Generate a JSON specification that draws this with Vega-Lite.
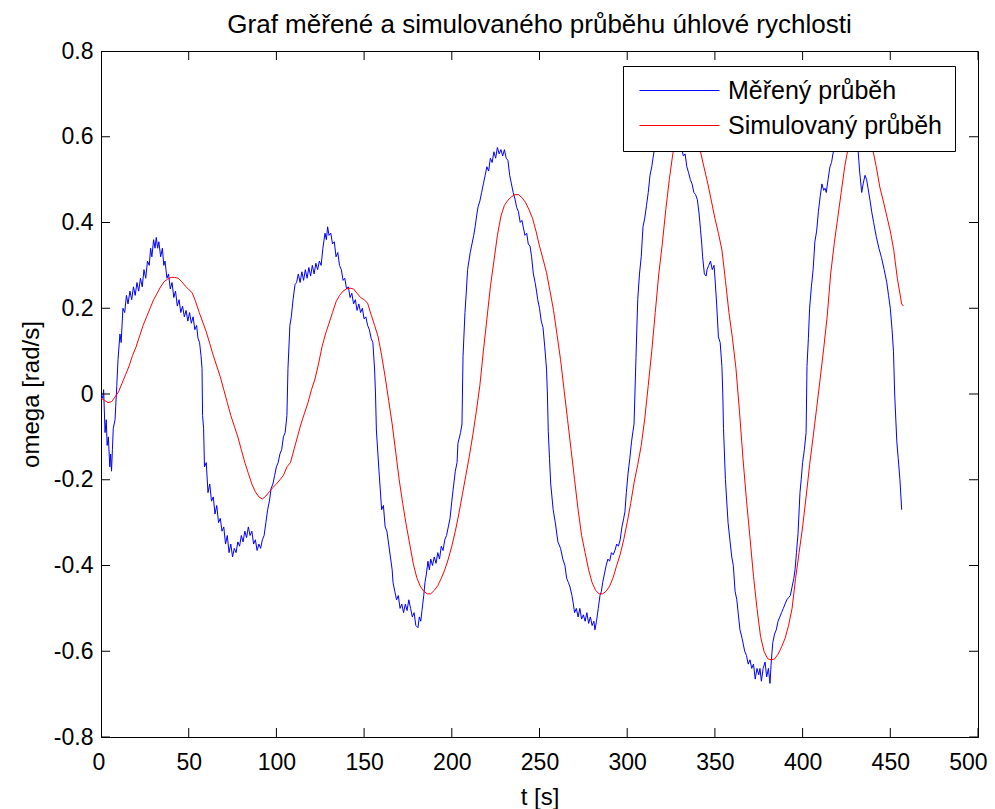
{
  "$schema": "https://vega.github.io/schema/vega-lite/v6.json",
  "width": 877,
  "height": 686,
  "autosize": {"type": "none"},
  "padding": {"left": 101, "top": 51, "right": 17, "bottom": 72},
  "background": "white",
  "config": {
    "font": "Liberation Sans",
    "view": {"stroke": "black", "strokeWidth": 1},
    "axis": {
      "grid": false,
      "domainColor": "black",
      "labelColor": "black",
      "titleColor": "black",
      "labelFont": "Liberation Sans",
      "titleFont": "Liberation Sans",
      "labelFontSize": 23,
      "titleFontSize": 24,
      "titleFontWeight": "normal",
      "labelOverlap": false,
      "labelBound": false
    }
  },
  "title": {
    "text": "Graf měřené a simulovaného průběhu úhlové rychlosti",
    "font": "Liberation Sans",
    "fontSize": 26,
    "fontWeight": "normal",
    "color": "black",
    "anchor": "middle",
    "offset": 2
  },
  "datasets": {
    "xticks": [
      {"t":0,"w":-0.8},{"t":50,"w":-0.8},{"t":100,"w":-0.8},{"t":150,"w":-0.8},{"t":200,"w":-0.8},{"t":250,"w":-0.8},{"t":300,"w":-0.8},{"t":350,"w":-0.8},{"t":400,"w":-0.8},{"t":450,"w":-0.8},{"t":500,"w":-0.8},
      {"t":0,"w":0.8},{"t":50,"w":0.8},{"t":100,"w":0.8},{"t":150,"w":0.8},{"t":200,"w":0.8},{"t":250,"w":0.8},{"t":300,"w":0.8},{"t":350,"w":0.8},{"t":400,"w":0.8},{"t":450,"w":0.8},{"t":500,"w":0.8}
    ],
    "yticks": [
      {"t":0,"w":-0.8},{"t":0,"w":-0.6},{"t":0,"w":-0.4},{"t":0,"w":-0.2},{"t":0,"w":0},{"t":0,"w":0.2},{"t":0,"w":0.4},{"t":0,"w":0.6},{"t":0,"w":0.8},
      {"t":500,"w":-0.8},{"t":500,"w":-0.6},{"t":500,"w":-0.4},{"t":500,"w":-0.2},{"t":500,"w":0},{"t":500,"w":0.2},{"t":500,"w":0.4},{"t":500,"w":0.6},{"t":500,"w":0.8}
    ],
    "measured": [
      {"t":0,"w":0.0},{"t":1,"w":-0.01},{"t":1.5,"w":0.01},{"t":2.3,"w":-0.09},{"t":3,"w":-0.06},{"t":3.5,"w":-0.12},{"t":4.2,"w":-0.1},{"t":5,"w":-0.17},{"t":5.5,"w":-0.14},{"t":6,"w":-0.18},{"t":6.5,"w":-0.13},{"t":7,"w":-0.08},{"t":8,"w":-0.06},{"t":9,"w":0.02},{"t":9.7,"w":0.08},{"t":10.8,"w":0.14},{"t":11.5,"w":0.12},{"t":12.5,"w":0.2},{"t":13.5,"w":0.19},{"t":14.5,"w":0.23},{"t":15.4,"w":0.21},{"t":16.5,"w":0.24},{"t":17.5,"w":0.22},{"t":18.5,"w":0.25},{"t":19.5,"w":0.23},{"t":20.5,"w":0.26},{"t":21.5,"w":0.24},{"t":22.5,"w":0.27},{"t":23.5,"w":0.25},{"t":24.5,"w":0.29},{"t":25.5,"w":0.27},{"t":26.5,"w":0.31},{"t":27.5,"w":0.3},{"t":28.3,"w":0.34},{"t":29,"w":0.32},{"t":30,"w":0.36},{"t":30.8,"w":0.34},{"t":31.5,"w":0.365},{"t":32.3,"w":0.34},{"t":33,"w":0.355},{"t":34,"w":0.32},{"t":35,"w":0.34},{"t":35.8,"w":0.3},{"t":36.5,"w":0.31},{"t":37.6,"w":0.27},{"t":38.5,"w":0.28},{"t":39.5,"w":0.245},{"t":40.5,"w":0.26},{"t":41.5,"w":0.225},{"t":42.5,"w":0.24},{"t":43.5,"w":0.205},{"t":44.5,"w":0.22},{"t":45.5,"w":0.19},{"t":46.5,"w":0.205},{"t":47.5,"w":0.18},{"t":48.5,"w":0.195},{"t":49.5,"w":0.17},{"t":50.5,"w":0.19},{"t":51.5,"w":0.165},{"t":52.5,"w":0.18},{"t":53.5,"w":0.15},{"t":54.5,"w":0.16},{"t":55.3,"w":0.13},{"t":56.2,"w":0.12},{"t":57,"w":0.09},{"t":57.6,"w":0.06},{"t":57.9,"w":-0.05},{"t":58.5,"w":-0.08},{"t":59,"w":-0.17},{"t":60,"w":-0.16},{"t":61,"w":-0.23},{"t":62,"w":-0.21},{"t":63,"w":-0.25},{"t":64,"w":-0.24},{"t":65,"w":-0.28},{"t":66,"w":-0.26},{"t":67,"w":-0.3},{"t":68,"w":-0.29},{"t":69,"w":-0.32},{"t":70,"w":-0.31},{"t":71,"w":-0.35},{"t":72,"w":-0.33},{"t":73,"w":-0.37},{"t":74,"w":-0.35},{"t":75,"w":-0.38},{"t":76,"w":-0.36},{"t":77,"w":-0.37},{"t":78,"w":-0.345},{"t":79,"w":-0.355},{"t":80,"w":-0.33},{"t":81,"w":-0.345},{"t":82,"w":-0.32},{"t":83,"w":-0.335},{"t":84,"w":-0.31},{"t":85,"w":-0.33},{"t":86,"w":-0.32},{"t":87,"w":-0.35},{"t":88,"w":-0.34},{"t":89,"w":-0.365},{"t":90,"w":-0.35},{"t":91,"w":-0.36},{"t":92,"w":-0.34},{"t":93,"w":-0.33},{"t":94,"w":-0.3},{"t":95,"w":-0.27},{"t":96,"w":-0.25},{"t":97,"w":-0.22},{"t":98,"w":-0.21},{"t":99,"w":-0.19},{"t":100,"w":-0.17},{"t":101,"w":-0.16},{"t":102,"w":-0.14},{"t":103,"w":-0.13},{"t":104,"w":-0.1},{"t":105,"w":-0.09},{"t":106,"w":-0.05},{"t":106.6,"w":0.06},{"t":107.7,"w":0.16},{"t":108.5,"w":0.18},{"t":109.5,"w":0.22},{"t":110.6,"w":0.255},{"t":111.5,"w":0.26},{"t":112.5,"w":0.28},{"t":113.5,"w":0.26},{"t":114.5,"w":0.285},{"t":115.5,"w":0.265},{"t":116.5,"w":0.29},{"t":117.5,"w":0.27},{"t":118.5,"w":0.295},{"t":119.5,"w":0.275},{"t":120.5,"w":0.3},{"t":121.5,"w":0.28},{"t":122.5,"w":0.305},{"t":123.5,"w":0.29},{"t":124.5,"w":0.31},{"t":125.5,"w":0.3},{"t":126.5,"w":0.34},{"t":127.7,"w":0.375},{"t":128.5,"w":0.36},{"t":129.2,"w":0.39},{"t":130,"w":0.37},{"t":131,"w":0.375},{"t":132,"w":0.35},{"t":133,"w":0.355},{"t":134,"w":0.32},{"t":135,"w":0.33},{"t":136,"w":0.3},{"t":137,"w":0.29},{"t":138,"w":0.265},{"t":139,"w":0.27},{"t":140,"w":0.245},{"t":141,"w":0.25},{"t":142,"w":0.225},{"t":143,"w":0.235},{"t":144,"w":0.21},{"t":145,"w":0.22},{"t":146,"w":0.195},{"t":147,"w":0.21},{"t":148,"w":0.19},{"t":149,"w":0.2},{"t":150,"w":0.175},{"t":151,"w":0.18},{"t":152,"w":0.16},{"t":153,"w":0.15},{"t":154,"w":0.13},{"t":155,"w":0.12},{"t":156,"w":0.056},{"t":156.5,"w":0.0},{"t":157,"w":-0.084},{"t":158.5,"w":-0.18},{"t":160,"w":-0.27},{"t":161,"w":-0.26},{"t":162,"w":-0.31},{"t":163,"w":-0.32},{"t":164,"w":-0.35},{"t":165,"w":-0.38},{"t":166,"w":-0.41},{"t":166.5,"w":-0.44},{"t":167.5,"w":-0.46},{"t":168.5,"w":-0.48},{"t":169.5,"w":-0.47},{"t":170.5,"w":-0.5},{"t":171.5,"w":-0.49},{"t":172.5,"w":-0.51},{"t":173.5,"w":-0.49},{"t":174.5,"w":-0.505},{"t":175.5,"w":-0.48},{"t":176.5,"w":-0.5},{"t":177.5,"w":-0.52},{"t":178.5,"w":-0.51},{"t":179.5,"w":-0.54},{"t":180.7,"w":-0.545},{"t":181.5,"w":-0.52},{"t":182.3,"w":-0.53},{"t":183,"w":-0.505},{"t":184,"w":-0.47},{"t":184.7,"w":-0.44},{"t":185.5,"w":-0.42},{"t":186.4,"w":-0.39},{"t":187.2,"w":-0.41},{"t":188,"w":-0.385},{"t":189,"w":-0.4},{"t":190,"w":-0.38},{"t":191,"w":-0.395},{"t":192,"w":-0.37},{"t":193,"w":-0.385},{"t":194,"w":-0.355},{"t":195,"w":-0.365},{"t":196,"w":-0.34},{"t":197,"w":-0.33},{"t":198,"w":-0.31},{"t":199,"w":-0.29},{"t":200,"w":-0.25},{"t":200.7,"w":-0.225},{"t":202,"w":-0.18},{"t":203,"w":-0.16},{"t":203.5,"w":-0.115},{"t":205,"w":-0.09},{"t":205.8,"w":-0.07},{"t":206.4,"w":0.087},{"t":207.5,"w":0.19},{"t":208.3,"w":0.24},{"t":209,"w":0.29},{"t":210.5,"w":0.33},{"t":211.5,"w":0.35},{"t":212.5,"w":0.37},{"t":213.3,"w":0.39},{"t":214.3,"w":0.42},{"t":215,"w":0.437},{"t":216,"w":0.45},{"t":217,"w":0.47},{"t":218,"w":0.49},{"t":219,"w":0.51},{"t":220,"w":0.53},{"t":221,"w":0.52},{"t":222,"w":0.55},{"t":223,"w":0.54},{"t":224,"w":0.565},{"t":225,"w":0.55},{"t":226,"w":0.575},{"t":227,"w":0.56},{"t":228,"w":0.57},{"t":229,"w":0.555},{"t":230,"w":0.57},{"t":231,"w":0.55},{"t":232,"w":0.545},{"t":233,"w":0.51},{"t":234,"w":0.49},{"t":235,"w":0.47},{"t":236,"w":0.455},{"t":237,"w":0.435},{"t":238,"w":0.425},{"t":239,"w":0.4},{"t":240,"w":0.405},{"t":240.7,"w":0.39},{"t":241.7,"w":0.37},{"t":242.7,"w":0.375},{"t":243.6,"w":0.35},{"t":244.6,"w":0.345},{"t":245.5,"w":0.32},{"t":246.5,"w":0.28},{"t":247.5,"w":0.26},{"t":248.3,"w":0.24},{"t":249,"w":0.22},{"t":250,"w":0.2},{"t":251,"w":0.17},{"t":252,"w":0.155},{"t":253,"w":0.11},{"t":254,"w":0.058},{"t":254.5,"w":0.0},{"t":255,"w":-0.087},{"t":255.7,"w":-0.15},{"t":256.4,"w":-0.21},{"t":257.8,"w":-0.27},{"t":259,"w":-0.3},{"t":260.5,"w":-0.345},{"t":262,"w":-0.36},{"t":263.3,"w":-0.385},{"t":264.5,"w":-0.4},{"t":265.5,"w":-0.43},{"t":266.5,"w":-0.44},{"t":267.4,"w":-0.45},{"t":268.5,"w":-0.47},{"t":269.3,"w":-0.49},{"t":270,"w":-0.51},{"t":271,"w":-0.5},{"t":272,"w":-0.52},{"t":273,"w":-0.5},{"t":274,"w":-0.525},{"t":275,"w":-0.515},{"t":276,"w":-0.53},{"t":277,"w":-0.51},{"t":278,"w":-0.535},{"t":279,"w":-0.52},{"t":280,"w":-0.54},{"t":281,"w":-0.53},{"t":281.6,"w":-0.55},{"t":282.5,"w":-0.53},{"t":283.5,"w":-0.5},{"t":284.5,"w":-0.47},{"t":285.3,"w":-0.46},{"t":286,"w":-0.44},{"t":287,"w":-0.42},{"t":288,"w":-0.4},{"t":289,"w":-0.385},{"t":290,"w":-0.39},{"t":291,"w":-0.37},{"t":292,"w":-0.375},{"t":293,"w":-0.365},{"t":294,"w":-0.35},{"t":295,"w":-0.355},{"t":296,"w":-0.34},{"t":297,"w":-0.31},{"t":298,"w":-0.29},{"t":298.7,"w":-0.275},{"t":299.5,"w":-0.23},{"t":300.5,"w":-0.185},{"t":301.5,"w":-0.15},{"t":302.5,"w":-0.11},{"t":303.9,"w":-0.07},{"t":305,"w":0.085},{"t":306,"w":0.22},{"t":307,"w":0.28},{"t":308,"w":0.32},{"t":309,"w":0.39},{"t":310,"w":0.41},{"t":311,"w":0.44},{"t":312,"w":0.47},{"t":313,"w":0.51},{"t":314,"w":0.53},{"t":314.7,"w":0.55},{"t":315.5,"w":0.57},{"t":317,"w":0.6},{"t":318.5,"w":0.62},{"t":320,"w":0.64},{"t":321.5,"w":0.65},{"t":323,"w":0.66},{"t":324.5,"w":0.65},{"t":326,"w":0.64},{"t":327.5,"w":0.62},{"t":329,"w":0.6},{"t":330,"w":0.57},{"t":331,"w":0.575},{"t":332,"w":0.555},{"t":333,"w":0.56},{"t":334,"w":0.53},{"t":335,"w":0.516},{"t":336,"w":0.5},{"t":337,"w":0.49},{"t":338,"w":0.47},{"t":339,"w":0.465},{"t":340,"w":0.453},{"t":341,"w":0.42},{"t":341.8,"w":0.383},{"t":342.5,"w":0.35},{"t":343,"w":0.32},{"t":344,"w":0.28},{"t":345,"w":0.275},{"t":345.5,"w":0.29},{"t":346.5,"w":0.3},{"t":347.5,"w":0.31},{"t":348.5,"w":0.29},{"t":349.5,"w":0.3},{"t":350,"w":0.273},{"t":351,"w":0.21},{"t":352,"w":0.133},{"t":353,"w":0.12},{"t":354,"w":0.064},{"t":354.5,"w":0.0},{"t":354.9,"w":-0.08},{"t":356,"w":-0.2},{"t":357.5,"w":-0.3},{"t":359.6,"w":-0.38},{"t":360.5,"w":-0.4},{"t":361.5,"w":-0.46},{"t":362.5,"w":-0.48},{"t":363.5,"w":-0.52},{"t":364.3,"w":-0.55},{"t":365.5,"w":-0.57},{"t":367,"w":-0.6},{"t":368,"w":-0.61},{"t":369,"w":-0.63},{"t":370,"w":-0.62},{"t":371,"w":-0.64},{"t":372,"w":-0.63},{"t":373,"w":-0.665},{"t":374,"w":-0.64},{"t":375,"w":-0.655},{"t":375.7,"w":-0.64},{"t":376.5,"w":-0.67},{"t":377.5,"w":-0.64},{"t":378.6,"w":-0.625},{"t":379.5,"w":-0.66},{"t":380.5,"w":-0.64},{"t":381.4,"w":-0.675},{"t":382.2,"w":-0.62},{"t":383,"w":-0.58},{"t":384,"w":-0.56},{"t":385,"w":-0.55},{"t":386,"w":-0.53},{"t":387,"w":-0.52},{"t":388,"w":-0.51},{"t":389,"w":-0.5},{"t":390,"w":-0.49},{"t":391,"w":-0.48},{"t":392,"w":-0.475},{"t":393,"w":-0.47},{"t":394,"w":-0.45},{"t":395,"w":-0.43},{"t":395.7,"w":-0.41},{"t":396.5,"w":-0.37},{"t":397.4,"w":-0.325},{"t":398.5,"w":-0.23},{"t":399.2,"w":-0.2},{"t":400,"w":-0.16},{"t":401,"w":-0.13},{"t":402,"w":-0.09},{"t":402.5,"w":0.064},{"t":403.3,"w":0.13},{"t":404,"w":0.2},{"t":405,"w":0.25},{"t":406,"w":0.29},{"t":407,"w":0.355},{"t":408,"w":0.38},{"t":409,"w":0.425},{"t":410,"w":0.46},{"t":411,"w":0.49},{"t":412,"w":0.475},{"t":412.8,"w":0.48},{"t":413.5,"w":0.47},{"t":414.5,"w":0.5},{"t":415.6,"w":0.53},{"t":416.5,"w":0.54},{"t":417.3,"w":0.56},{"t":419,"w":0.59},{"t":420.5,"w":0.61},{"t":422,"w":0.63},{"t":423.5,"w":0.64},{"t":425,"w":0.65},{"t":426.5,"w":0.64},{"t":428,"w":0.62},{"t":429.5,"w":0.6},{"t":430.5,"w":0.59},{"t":431.6,"w":0.57},{"t":432.5,"w":0.52},{"t":433.7,"w":0.47},{"t":434.5,"w":0.49},{"t":435.6,"w":0.51},{"t":436.5,"w":0.5},{"t":437.3,"w":0.48},{"t":438.5,"w":0.45},{"t":439.4,"w":0.425},{"t":440.5,"w":0.4},{"t":442,"w":0.367},{"t":443.5,"w":0.34},{"t":445,"w":0.318},{"t":446.5,"w":0.29},{"t":448,"w":0.26},{"t":449,"w":0.23},{"t":450,"w":0.2},{"t":451,"w":0.15},{"t":451.8,"w":0.1},{"t":452.5,"w":0.0},{"t":453.7,"w":-0.11},{"t":454.5,"w":-0.15},{"t":455.5,"w":-0.2},{"t":456.5,"w":-0.27}
    ],
    "simulated": [
      {"t":0,"w":-0.01},{"t":2,"w":-0.015},{"t":4,"w":-0.02},{"t":6,"w":-0.018},{"t":8,"w":-0.007},{"t":10,"w":0.005},{"t":12,"w":0.025},{"t":14,"w":0.045},{"t":16,"w":0.065},{"t":18,"w":0.09},{"t":20,"w":0.11},{"t":22,"w":0.135},{"t":24,"w":0.16},{"t":26,"w":0.18},{"t":28,"w":0.2},{"t":30,"w":0.22},{"t":32,"w":0.235},{"t":34,"w":0.25},{"t":36,"w":0.262},{"t":38,"w":0.268},{"t":40,"w":0.272},{"t":42,"w":0.272},{"t":44,"w":0.27},{"t":46,"w":0.262},{"t":48,"w":0.252},{"t":50,"w":0.244},{"t":52,"w":0.236},{"t":54,"w":0.215},{"t":56,"w":0.19},{"t":58,"w":0.168},{"t":60,"w":0.145},{"t":62,"w":0.118},{"t":64,"w":0.09},{"t":66,"w":0.065},{"t":68,"w":0.04},{"t":70,"w":0.01},{"t":72,"w":-0.02},{"t":74,"w":-0.05},{"t":76,"w":-0.075},{"t":78,"w":-0.1},{"t":80,"w":-0.13},{"t":82,"w":-0.16},{"t":84,"w":-0.185},{"t":86,"w":-0.21},{"t":88,"w":-0.228},{"t":90,"w":-0.24},{"t":92,"w":-0.245},{"t":94,"w":-0.238},{"t":96,"w":-0.228},{"t":98,"w":-0.218},{"t":100,"w":-0.21},{"t":102,"w":-0.2},{"t":104,"w":-0.19},{"t":106,"w":-0.17},{"t":108,"w":-0.16},{"t":110,"w":-0.13},{"t":112,"w":-0.1},{"t":114,"w":-0.07},{"t":116,"w":-0.045},{"t":118,"w":-0.02},{"t":120,"w":0.01},{"t":122,"w":0.035},{"t":124,"w":0.07},{"t":126,"w":0.11},{"t":128,"w":0.14},{"t":130,"w":0.165},{"t":132,"w":0.19},{"t":134,"w":0.215},{"t":136,"w":0.23},{"t":138,"w":0.24},{"t":140,"w":0.245},{"t":142,"w":0.247},{"t":144,"w":0.245},{"t":146,"w":0.235},{"t":148,"w":0.225},{"t":150,"w":0.22},{"t":152,"w":0.212},{"t":154,"w":0.185},{"t":156,"w":0.16},{"t":158,"w":0.133},{"t":160,"w":0.09},{"t":162,"w":0.04},{"t":164,"w":-0.015},{"t":166,"w":-0.07},{"t":168,"w":-0.135},{"t":170,"w":-0.2},{"t":172,"w":-0.255},{"t":174,"w":-0.305},{"t":176,"w":-0.35},{"t":178,"w":-0.395},{"t":180,"w":-0.428},{"t":182,"w":-0.448},{"t":184,"w":-0.46},{"t":186,"w":-0.466},{"t":188,"w":-0.466},{"t":190,"w":-0.458},{"t":192,"w":-0.447},{"t":194,"w":-0.43},{"t":196,"w":-0.41},{"t":198,"w":-0.385},{"t":200,"w":-0.355},{"t":202,"w":-0.32},{"t":204,"w":-0.28},{"t":206,"w":-0.235},{"t":208,"w":-0.19},{"t":210,"w":-0.145},{"t":212,"w":-0.095},{"t":214,"w":-0.04},{"t":216,"w":0.02},{"t":218,"w":0.1},{"t":220,"w":0.175},{"t":222,"w":0.25},{"t":224,"w":0.31},{"t":226,"w":0.37},{"t":228,"w":0.415},{"t":230,"w":0.44},{"t":232,"w":0.452},{"t":234,"w":0.46},{"t":236,"w":0.465},{"t":238,"w":0.465},{"t":240,"w":0.458},{"t":242,"w":0.447},{"t":244,"w":0.43},{"t":246,"w":0.41},{"t":248,"w":0.38},{"t":250,"w":0.345},{"t":252,"w":0.315},{"t":254,"w":0.283},{"t":256,"w":0.24},{"t":258,"w":0.195},{"t":260,"w":0.138},{"t":262,"w":0.08},{"t":264,"w":0.01},{"t":266,"w":-0.06},{"t":268,"w":-0.13},{"t":270,"w":-0.2},{"t":272,"w":-0.27},{"t":274,"w":-0.33},{"t":276,"w":-0.37},{"t":278,"w":-0.41},{"t":280,"w":-0.44},{"t":282,"w":-0.458},{"t":284,"w":-0.466},{"t":286,"w":-0.466},{"t":288,"w":-0.46},{"t":290,"w":-0.448},{"t":292,"w":-0.428},{"t":294,"w":-0.4},{"t":296,"w":-0.374},{"t":298,"w":-0.34},{"t":300,"w":-0.3},{"t":302,"w":-0.255},{"t":304,"w":-0.205},{"t":306,"w":-0.165},{"t":308,"w":-0.12},{"t":310,"w":-0.058},{"t":312,"w":0.02},{"t":314,"w":0.1},{"t":316,"w":0.19},{"t":318,"w":0.28},{"t":320,"w":0.35},{"t":322,"w":0.43},{"t":324,"w":0.5},{"t":326,"w":0.56},{"t":328,"w":0.6},{"t":330,"w":0.625},{"t":332,"w":0.635},{"t":334,"w":0.64},{"t":336,"w":0.635},{"t":338,"w":0.62},{"t":340,"w":0.595},{"t":341.5,"w":0.57},{"t":344,"w":0.525},{"t":346,"w":0.49},{"t":348,"w":0.45},{"t":350,"w":0.41},{"t":352,"w":0.375},{"t":354,"w":0.336},{"t":356,"w":0.265},{"t":358,"w":0.19},{"t":360,"w":0.13},{"t":362,"w":0.06},{"t":364,"w":-0.04},{"t":366,"w":-0.15},{"t":368,"w":-0.248},{"t":370,"w":-0.335},{"t":372,"w":-0.425},{"t":374,"w":-0.5},{"t":376,"w":-0.565},{"t":378,"w":-0.6},{"t":380,"w":-0.617},{"t":382,"w":-0.62},{"t":384,"w":-0.618},{"t":386,"w":-0.607},{"t":388,"w":-0.59},{"t":390,"w":-0.57},{"t":392,"w":-0.54},{"t":394,"w":-0.5},{"t":396,"w":-0.43},{"t":398,"w":-0.37},{"t":400,"w":-0.31},{"t":402,"w":-0.24},{"t":404,"w":-0.165},{"t":406,"w":-0.1},{"t":408,"w":-0.033},{"t":410,"w":0.035},{"t":412,"w":0.105},{"t":414,"w":0.18},{"t":416,"w":0.28},{"t":418,"w":0.35},{"t":420,"w":0.41},{"t":422,"w":0.47},{"t":424,"w":0.53},{"t":426,"w":0.575},{"t":428,"w":0.6},{"t":430,"w":0.615},{"t":432,"w":0.62},{"t":434,"w":0.62},{"t":436,"w":0.615},{"t":438,"w":0.6},{"t":440,"w":0.57},{"t":442,"w":0.53},{"t":444,"w":0.483},{"t":446,"w":0.45},{"t":448,"w":0.415},{"t":450,"w":0.38},{"t":452,"w":0.335},{"t":454,"w":0.27},{"t":456.5,"w":0.21},{"t":457.5,"w":0.205}
    ]
  },
  "layer": [
    {
      "data": {"name": "measured"},
      "mark": {"type": "line", "strokeWidth": 1, "clip": true},
      "encoding": {
        "x": {
          "field": "t", "type": "quantitative",
          "scale": {"domain": [0, 500], "nice": false, "zero": false},
          "axis": {"orient": "bottom", "values": [0,50,100,150,200,250,300,350,400,450,500], "title": "t [s]", "ticks": false, "labelPadding": 14, "titlePadding": 11, "labelFlush": true, "labelFlushOffset": 9}
        },
        "y": {
          "field": "w", "type": "quantitative",
          "scale": {"domain": [-0.8, 0.8], "nice": false, "zero": false},
          "axis": {"orient": "left", "values": [-0.8,-0.6,-0.4,-0.2,0,0.2,0.4,0.6,0.8], "title": "omega [rad/s]", "ticks": false, "labelFlush": false, "labelPadding": 8, "titlePadding": 10, "labelExpr": "datum.value == 0 ? '0' : toString(round(datum.value*10)/10)"}
        },
        "color": {
          "datum": "Měřený průběh", "type": "nominal",
          "scale": {"domain": ["Měřený průběh", "Simulovaný průběh"], "range": ["#0000ff", "#ff0000"]},
          "legend": {
            "orient": "none", "legendX": 522, "legendY": 15, "title": null,
            "fillColor": "white", "strokeColor": "black", "padding": 12, "cornerRadius": 0,
            "symbolType": "M-8,0H8", "symbolSize": 100, "symbolStrokeWidth": 1, "symbolOffset": 32,
            "labelOffset": 36, "labelFontSize": 25, "labelFont": "Liberation Sans", "labelColor": "black", "labelLimit": 400,
            "rowPadding": 9
          }
        }
      }
    },
    {
      "data": {"name": "simulated"},
      "mark": {"type": "line", "strokeWidth": 1, "clip": true},
      "encoding": {
        "x": {"field": "t", "type": "quantitative", "axis": null},
        "y": {"field": "w", "type": "quantitative", "axis": null},
        "color": {"datum": "Simulovaný průběh", "type": "nominal"}
      }
    },
    {
      "data": {"name": "xticks"},
      "mark": {"type": "tick", "orient": "vertical", "size": 18, "thickness": 1, "color": "black", "opacity": 1, "clip": true},
      "encoding": {
        "x": {"field": "t", "type": "quantitative", "axis": null},
        "y": {"field": "w", "type": "quantitative", "axis": null}
      }
    },
    {
      "data": {"name": "yticks"},
      "mark": {"type": "tick", "orient": "horizontal", "size": 18, "thickness": 1, "color": "black", "opacity": 1, "clip": true},
      "encoding": {
        "x": {"field": "t", "type": "quantitative", "axis": null},
        "y": {"field": "w", "type": "quantitative", "axis": null}
      }
    }
  ],
  "resolve": {"axis": {"x": "independent", "y": "independent"}}
}
